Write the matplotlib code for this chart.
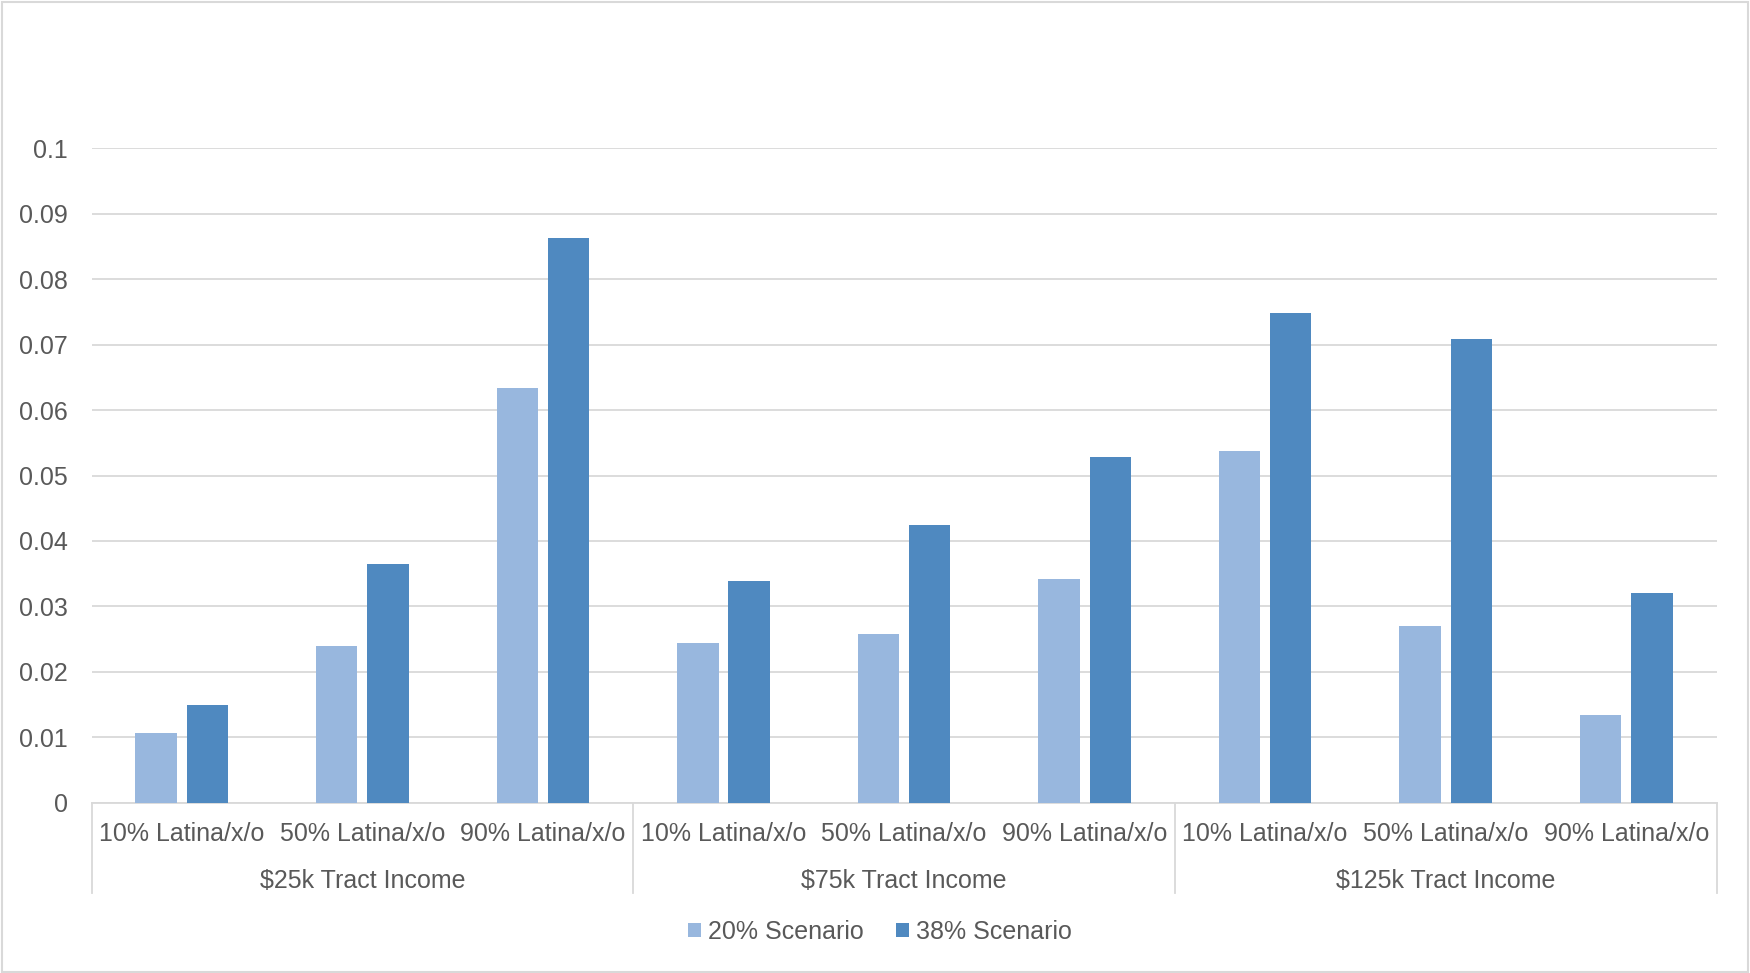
import matplotlib
matplotlib.use("Agg")
import matplotlib.pyplot as plt
import matplotlib.transforms as mtransforms
from matplotlib.patches import Rectangle
import numpy as np

plt.rcParams['font.family'] = ['Liberation Sans', 'DejaVu Sans']

groups = ["$25k Tract Income", "$75k Tract Income", "$125k Tract Income"]
subcats = ["10% Latina/x/o", "50% Latina/x/o", "90% Latina/x/o"]
series_names = ["20% Scenario", "38% Scenario"]
s20 = [0.0106, 0.0240, 0.0634, 0.0244, 0.0257, 0.0341, 0.0537, 0.0270, 0.0134]
s38 = [0.0149, 0.0364, 0.0863, 0.0339, 0.0424, 0.0528, 0.0749, 0.0708, 0.0320]
yticks = [0, 0.01, 0.02, 0.03, 0.04, 0.05, 0.06, 0.07, 0.08, 0.09, 0.1]
ytick_labels = ["0", "0.01", "0.02", "0.03", "0.04", "0.05", "0.06", "0.07", "0.08", "0.09", "0.1"]

c_light = "#98B7DE"
c_dark = "#4F89C0"
grid_c = "#D9D9D9"
text_c = "#595959"
fs = 18

fig = plt.figure(figsize=(17.5, 9.73), dpi=100)
ax = fig.add_axes([0.0523, 0.1752, 0.9286, 0.6722])

n = len(subcats) * len(groups)
x = np.arange(n)
bw = 0.229
off = 0.142
ax.bar(x - off, s20, width=bw, color=c_light, label=series_names[0], zorder=3)
ax.bar(x + off, s38, width=bw, color=c_dark, label=series_names[1], zorder=3)

ax.set_xlim(-0.5, n - 0.5)
ax.set_ylim(0, 0.1)
ax.set_yticks(yticks)
ax.set_yticklabels(ytick_labels)
ax.tick_params(axis='y', length=0, pad=17, labelsize=fs, labelcolor=text_c)
ax.set_xticks([])
for sp in ['top', 'right', 'left']:
    ax.spines[sp].set_visible(False)
ax.spines['bottom'].set_color(grid_c)
ax.spines['bottom'].set_linewidth(1.3)
ax.yaxis.grid(True, color=grid_c, linewidth=1.3, zorder=0)
ax.set_axisbelow(True)

trans = mtransforms.blended_transform_factory(ax.transData, ax.transAxes)
for i in range(n):
    ax.text(x[i], -0.048, subcats[i % 3], transform=trans, ha='center', va='center',
            fontsize=fs, color=text_c, clip_on=False)
for g in range(len(groups)):
    ax.text(g * 3 + 1, -0.12, groups[g], transform=trans, ha='center', va='center',
            fontsize=fs, color=text_c, clip_on=False)
for b in range(len(groups) + 1):
    ax.plot([b * 3 - 0.5, b * 3 - 0.5], [0, -0.139], transform=trans, color=grid_c,
            linewidth=1.3, clip_on=False)

fig.legend(loc='center', bbox_to_anchor=(0.503, 0.042), ncol=2, frameon=False,
           fontsize=fs, labelcolor=text_c, handlelength=0.5, handleheight=0.5,
           handletextpad=0.3, columnspacing=1.3)

fig.patches.append(Rectangle((0.001, 0.001), 0.998, 0.997, transform=fig.transFigure,
                             fill=False, edgecolor=grid_c, linewidth=1.5))

fig.savefig("out.png", dpi=100)
